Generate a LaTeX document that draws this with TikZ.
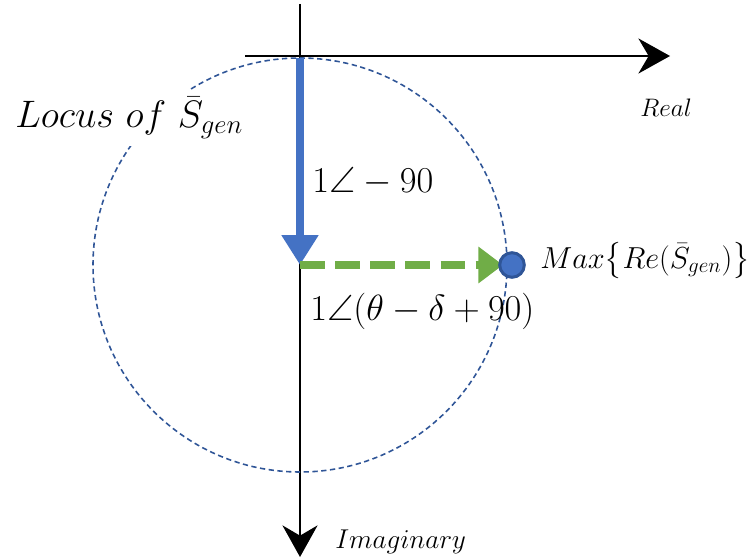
\RequirePackage{fix-cm}
\documentclass[tikz,border=0pt]{standalone}
\usepackage{amsmath,amssymb}
\usepackage{tikz}
\usetikzlibrary{arrows,arrows.meta}

\definecolor{phasorblue}{HTML}{4472C4}
\definecolor{locusblue}{HTML}{2F5597}
\definecolor{phasorgreen}{HTML}{70AD47}

\begin{document}
\begin{tikzpicture}[x=0.02cm,y=-0.02cm,
axis/.style={-{Stealth[length=18pt,width=20pt]},line width=1.1pt},
locus/.style={draw=locusblue,dash pattern=on 3pt off 2pt,line width=0.9pt},
phasor/.style={-{Triangle[length=17pt,width=20pt]},line width=4.5pt,draw=phasorblue},
maxphasor/.style={-{Triangle[length=14pt,width=20pt]},line width=4.5pt,draw=phasorgreen,dash pattern=on 14pt off 6pt},
dot/.style={circle,fill=phasorblue,draw=locusblue,line width=1.7pt,minimum size=14pt,inner sep=0pt},
lbl/.style={anchor=base west,inner sep=0pt} ]

\useasboundingbox (0,0) rectangle (756,560);

\coordinate (realL) at (245,56);
\coordinate (realR) at (670,56);
\coordinate (imagT) at (300,4);
\coordinate (imagB) at (300,557);
\coordinate (top) at (300,58);
\coordinate (ctr) at (300,265);
\coordinate (ctrR) at (503,265);

\draw[axis] (realL) -- (realR);
\draw[axis] (imagT) -- (imagB);

\draw[locus] (ctr) circle[radius=207];

\draw[phasor] (top) -- (ctr);
\draw[maxphasor] (ctr) -- (ctrR);

\node[dot](max) at (512,265) {};

\node[lbl,fill=white,inner sep=4pt,font=\fontsize{21.8}{26}\selectfont](locuslbl) at (8,128) {$Locus\ of\ \bar{S}_{gen}$};
\node[lbl,font=\fontsize{20.74}{24}\selectfont](vlbl) at (312,193) {$1\angle-90$};
\node[lbl,font=\fontsize{20.74}{24}\selectfont](hlbl) at (310,320) {$1\angle(\theta-\delta+90)$};
\node[lbl,font=\fontsize{17.28}{21}\selectfont](maxlbl) at (540,268) {$Max\big\{Re(\bar{S}_{gen})\big\}$};
\node[lbl,font=\fontsize{14.4}{17}\selectfont](reallbl) at (640,117) {$Real$};
\node[lbl,font=\fontsize{15.5}{19}\selectfont](imaglbl) at (335,548) {$Imaginary$};

\end{tikzpicture}
\end{document}
